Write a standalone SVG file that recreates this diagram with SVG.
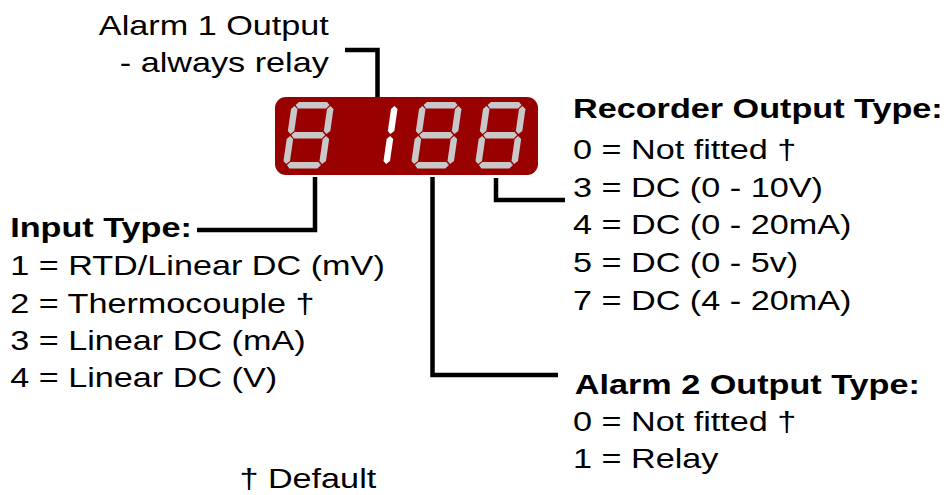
<svg xmlns="http://www.w3.org/2000/svg" width="947" height="495" viewBox="0 0 947 495">
<style>
.t{font-family:"Liberation Sans",Arial,sans-serif;font-size:28.5px;fill:#000}
.b{font-weight:bold}
.seg{fill:#c8c8c8}
.lit{fill:#ffffff}
.con{fill:none;stroke:#000;stroke-width:4.5;stroke-linejoin:miter}
</style>
<defs>
<polygon id="sa" points="4,3 7,0 35,0 38,3 35,6.5 7,6.5"/>
<polygon id="sf" points="3,4 6.5,7 6.5,29 3,32 0,29 0,7"/>
<g id="eight">
<use href="#sa"/>
<use href="#sa" y="30"/>
<use href="#sa" y="60"/>
<use href="#sf"/>
<use href="#sf" x="36"/>
<use href="#sf" y="30"/>
<use href="#sf" x="36" y="30"/>
</g>
</defs>
<rect width="947" height="495" fill="#fff"/>
<g id="display">
<rect x="275" y="97" width="263" height="78" rx="11" fill="#990000"/>
<g class="seg" transform="translate(292,102) skewX(-8.2)"><use href="#eight"/></g>
<g class="lit" transform="translate(356,102) skewX(-8.2)"><use href="#sf" x="36"/><use href="#sf" x="36" y="30"/></g>
<g class="seg" transform="translate(420,102) skewX(-8.2)"><use href="#eight"/></g>
<g class="seg" transform="translate(484,102) skewX(-8.2)"><use href="#eight"/></g>
</g>
<g id="connectors">
<path class="con" d="M345 50 H377.5 V97"/>
<path class="con" d="M315 177 V230 H197"/>
<path class="con" d="M432.5 177 V375 H558"/>
<path class="con" d="M496 178 V200 H565"/>
</g>
<g transform="scale(1.2,1)">
<g id="alarm1">
<text class="t" x="274" y="35" text-anchor="end">Alarm 1 Output</text>
<text class="t" x="274" y="72" text-anchor="end">- always relay</text>
</g>
<g id="input-type">
<text class="t b" x="8.5" y="237">Input Type:</text>
<text class="t" x="8.5" y="275">1 = RTD/Linear DC (mV)</text>
<text class="t" x="8.5" y="313">2 = Thermocouple †</text>
<text class="t" x="8.5" y="350">3 = Linear DC (mA)</text>
<text class="t" x="8.5" y="387">4 = Linear DC (V)</text>
</g>
<g id="recorder">
<text class="t b" x="477.5" y="118">Recorder Output Type:</text>
<text class="t" x="477.5" y="159">0 = Not fitted †</text>
<text class="t" x="477.5" y="197">3 = DC (0 - 10V)</text>
<text class="t" x="477.5" y="234">4 = DC (0 - 20mA)</text>
<text class="t" x="477.5" y="272">5 = DC (0 - 5v)</text>
<text class="t" x="477.5" y="310">7 = DC (4 - 20mA)</text>
</g>
<g id="alarm2">
<text class="t b" x="479" y="394">Alarm 2 Output Type:</text>
<text class="t" x="477.5" y="431">0 = Not fitted †</text>
<text class="t" x="477.5" y="468">1 = Relay</text>
</g>
<g id="legend">
<text class="t" x="199.5" y="488">† Default</text>
</g>
</g>
</svg>
